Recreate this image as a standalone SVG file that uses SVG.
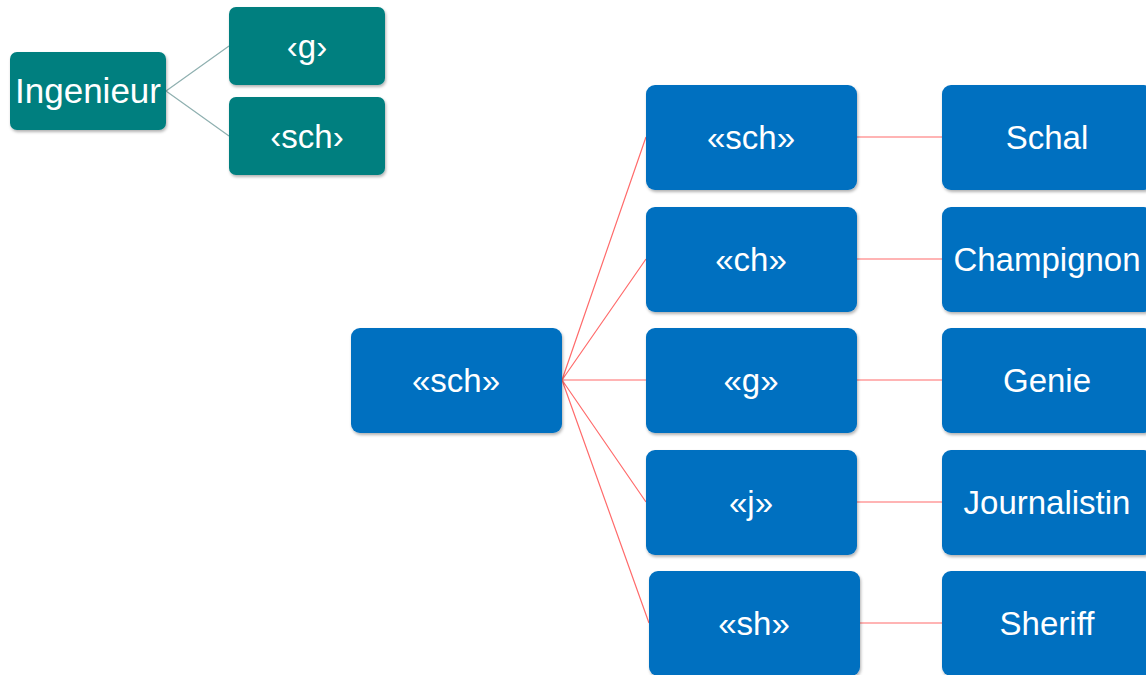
<svg xmlns="http://www.w3.org/2000/svg" width="1146" height="675" viewBox="0 0 1146 675">
<defs>
<filter id="sh" x="-10%" y="-10%" width="120%" height="130%">
<feDropShadow dx="1" dy="2" stdDeviation="1.5" flood-color="#000" flood-opacity="0.3"/>
</filter>
<style>
.teal{fill:#007F7F;filter:url(#sh)}
.blue{fill:#0070C0;filter:url(#sh)}
.t{fill:#fff;font-family:"Liberation Sans",Arial,sans-serif;font-size:33px;text-anchor:middle}
.big{font-size:35px}
.cg{stroke:#8FB0B0;stroke-width:1.2;fill:none}
.cr{stroke:#FF6B6B;stroke-width:1.2;fill:none}
</style>
</defs>
<rect width="1146" height="675" fill="#fff"/>
<g id="connectors">
<path class="cg" d="M166,91 L229,46 M166,91 L229,136"/>
<path class="cr" d="M562,380 L646,137 M562,380 L646,259 M562,380 L646,380 M562,380 L646,502 M562,380 L649,623"/>
<path class="cr" d="M857,137 L942,137 M857,259 L942,259 M857,380 L942,380 M857,502 L942,502 M860,623 L942,623"/>
</g>
<g id="n-ingenieur"><rect class="teal" x="10" y="52" width="156" height="78" rx="7"/><text class="t big" x="88" y="103">Ingenieur</text></g>
<g id="n-g-small"><rect class="teal" x="229" y="7" width="156" height="78" rx="7"/><text class="t" x="307" y="58">‹g›</text></g>
<g id="n-sch-small"><rect class="teal" x="229" y="97" width="156" height="78" rx="7"/><text class="t" x="307" y="148">‹sch›</text></g>
<g id="n-sch-root"><rect class="blue" x="351" y="328" width="211" height="105" rx="9"/><text class="t" x="456" y="392">«sch»</text></g>
<g id="n-sch"><rect class="blue" x="646" y="85" width="211" height="105" rx="9"/><text class="t" x="751" y="149">«sch»</text></g>
<g id="n-ch"><rect class="blue" x="646" y="207" width="211" height="105" rx="9"/><text class="t" x="751" y="271">«ch»</text></g>
<g id="n-g"><rect class="blue" x="646" y="328" width="211" height="105" rx="9"/><text class="t" x="751" y="392">«g»</text></g>
<g id="n-j"><rect class="blue" x="646" y="450" width="211" height="105" rx="9"/><text class="t" x="751" y="514">«j»</text></g>
<g id="n-sh"><rect class="blue" x="649" y="571" width="211" height="105" rx="9"/><text class="t" x="754" y="635">«sh»</text></g>
<g id="n-schal"><rect class="blue" x="942" y="85" width="211" height="105" rx="9"/><text class="t" x="1047" y="149">Schal</text></g>
<g id="n-champignon"><rect class="blue" x="942" y="207" width="211" height="105" rx="9"/><text class="t" x="1047" y="271">Champignon</text></g>
<g id="n-genie"><rect class="blue" x="942" y="328" width="211" height="105" rx="9"/><text class="t" x="1047" y="392">Genie</text></g>
<g id="n-journalistin"><rect class="blue" x="942" y="450" width="211" height="105" rx="9"/><text class="t" x="1047" y="514">Journalistin</text></g>
<g id="n-sheriff"><rect class="blue" x="942" y="571" width="211" height="105" rx="9"/><text class="t" x="1047" y="635">Sheriff</text></g>
</svg>
